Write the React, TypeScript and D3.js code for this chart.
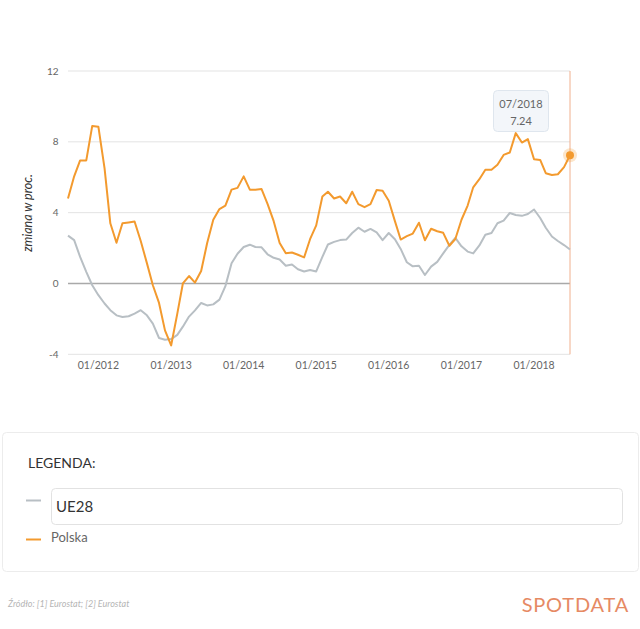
import React from "react";
import * as d3 from "d3";

const startMonth = new Date(2011, 7, 1);
const tickYears = [2012, 2013, 2014, 2015, 2016, 2017, 2018];
const yTicks = [-4, 0, 4, 8, 12];

const polska = [4.8, 6.05, 6.95, 6.95, 8.9, 8.85, 6.5, 3.4, 2.3, 3.4, 3.45, 3.5, 2.4, 1.15, -0.1, -1.1, -2.65, -3.5, -1.7, 0.0, 0.42, 0.05, 0.7, 2.27, 3.6, 4.2, 4.4, 5.3, 5.4, 6.05, 5.3, 5.3, 5.33, 4.5, 3.52, 2.29, 1.71, 1.75, 1.62, 1.47, 2.5, 3.28, 4.91, 5.18, 4.8, 4.91, 4.53, 5.18, 4.48, 4.31, 4.48, 5.28, 5.24, 4.67, 3.52, 2.48, 2.67, 2.82, 3.43, 2.44, 3.09, 2.95, 2.86, 2.13, 2.51, 3.6, 4.4, 5.43, 5.89, 6.42, 6.42, 6.7, 7.26, 7.4, 8.49, 7.96, 8.15, 7.02, 6.98, 6.23, 6.13, 6.17, 6.57, 7.24];

const ue28 = [2.7, 2.45, 1.5, 0.66, -0.1, -0.66, -1.13, -1.51, -1.8, -1.89, -1.85, -1.7, -1.51, -1.8, -2.27, -3.08, -3.18, -3.14, -2.9, -2.44, -1.87, -1.52, -1.1, -1.24, -1.18, -0.91, -0.15, 1.14, 1.68, 2.06, 2.19, 2.06, 2.04, 1.65, 1.45, 1.35, 1.0, 1.07, 0.8, 0.68, 0.76, 0.68, 1.5, 2.2, 2.35, 2.45, 2.48, 2.85, 3.15, 2.92, 3.08, 2.88, 2.45, 2.85, 2.5, 1.95, 1.2, 0.97, 1.0, 0.48, 0.95, 1.22, 1.7, 2.18, 2.58, 2.1, 1.8, 1.7, 2.15, 2.75, 2.85, 3.4, 3.55, 3.98, 3.87, 3.82, 3.92, 4.18, 3.7, 3.15, 2.65, 2.4, 2.17, 1.92];

const seriesNames = ["UE28", "Polska"];
const colors = ["#b8bfc4", "#f39a2e"];

const FONT = "Lato, 'Open Sans', sans-serif";

export default function App() {
  const dates = polska.map((_, i) => d3.timeMonth.offset(startMonth, i));
  const x = d3
    .scaleTime()
    .domain([dates[0], dates[dates.length - 1]])
    .range([68, 570]);
  const y = d3.scaleLinear().domain([-4, 12]).range([354.3, 71]);
  const line = d3
    .line<number>()
    .x((_, i) => x(dates[i]))
    .y((d) => y(d))
    .curve(d3.curveLinear);

  const fmt = d3.timeFormat("%m/%Y");
  const lastI = polska.length - 1;
  const lx = x(dates[lastI]);
  const ly = y(polska[lastI]);

  return (
    <div style={{ position: "absolute", left: 0, top: 0, width: 640, height: 629, background: "#fff" }}>
      <svg width={640} height={629} style={{ display: "block", fontFamily: FONT }}>
        <rect x={0} y={0} width={640} height={629} fill="#fff" />
        {yTicks.map((t) => (
          <line
            key={t}
            x1={68}
            x2={570}
            y1={y(t)}
            y2={y(t)}
            stroke={t === 0 ? "#a9a9a9" : "#e3e3e3"}
            strokeWidth={t === 0 ? 1.5 : 1}
          />
        ))}
        {yTicks.map((t) => (
          <text key={"l" + t} x={58.5} y={y(t)} dy="0.35em" textAnchor="end" fontSize={10} fill="#666">
            {t}
          </text>
        ))}
        <text
          transform={`translate(28,213) rotate(-90)`}
          textAnchor="middle"
          fontSize={12.5}
          fontStyle="italic"
          fill="#333"
          dy="0.35em"
        >
          zmiana w proc.
        </text>
        {tickYears.map((yr) => {
          const d = new Date(yr, 0, 1);
          return (
            <text key={yr} x={x(d)} y={365} dy="0.35em" textAnchor="middle" fontSize={10.5} fill="#666">
              {fmt(d)}
            </text>
          );
        })}
        <line x1={lx} x2={lx} y1={71} y2={354.3} stroke="#f0b08e" strokeWidth={1} />
        <path d={line(ue28) || ""} fill="none" stroke={colors[0]} strokeWidth={2} strokeLinejoin="round" />
        <path d={line(polska) || ""} fill="none" stroke={colors[1]} strokeWidth={2} strokeLinejoin="round" />
        <circle cx={lx} cy={ly} r={7} fill={colors[1]} fillOpacity={0.25} />
        <circle cx={lx} cy={ly} r={4} fill={colors[1]} />
        <rect x={493.5} y={90.5} width={55} height={41} rx={4} fill="#f3f6fa" stroke="#dfe6ee" />
        <text x={521} y={104} dy="0.35em" textAnchor="middle" fontSize={11} fill="#666">
          {fmt(dates[lastI])}
        </text>
        <text x={521} y={121} dy="0.35em" textAnchor="middle" fontSize={11} fill="#666">
          {polska[lastI].toFixed(2)}
        </text>

        <rect x={2.5} y={432.5} width={636} height={139} rx={4} fill="#fff" stroke="#ececec" />
        <text x={28} y={463} dy="0.35em" fontSize={14} fill="#333">
          LEGENDA:
        </text>
        <line x1={26} x2={41} y1={500.5} y2={500.5} stroke={colors[0]} strokeWidth={2} />
        <rect x={51.5} y={488.5} width={571} height={36} rx={4} fill="#fff" stroke="#e2e2e2" />
        <text x={56} y={507} dy="0.35em" fontSize={15} fill="#333">
          {seriesNames[0]}
        </text>
        <line x1={26} x2={41} y1={539.5} y2={539.5} stroke={colors[1]} strokeWidth={2} />
        <text x={51} y={537} dy="0.35em" fontSize={13} fill="#666">
          {seriesNames[1]}
        </text>

        <text x={8} y={604} dy="0.35em" fontSize={9} fontStyle="italic" fill="#b5b5b5">
          Źródło: [1] Eurostat; [2] Eurostat
        </text>
        <text x={629} y={605} dy="0.35em" textAnchor="end" fontSize={20} fill="#e68a64" letterSpacing={0.8}>
          SPOTDATA
        </text>
      </svg>
    </div>
  );
}
